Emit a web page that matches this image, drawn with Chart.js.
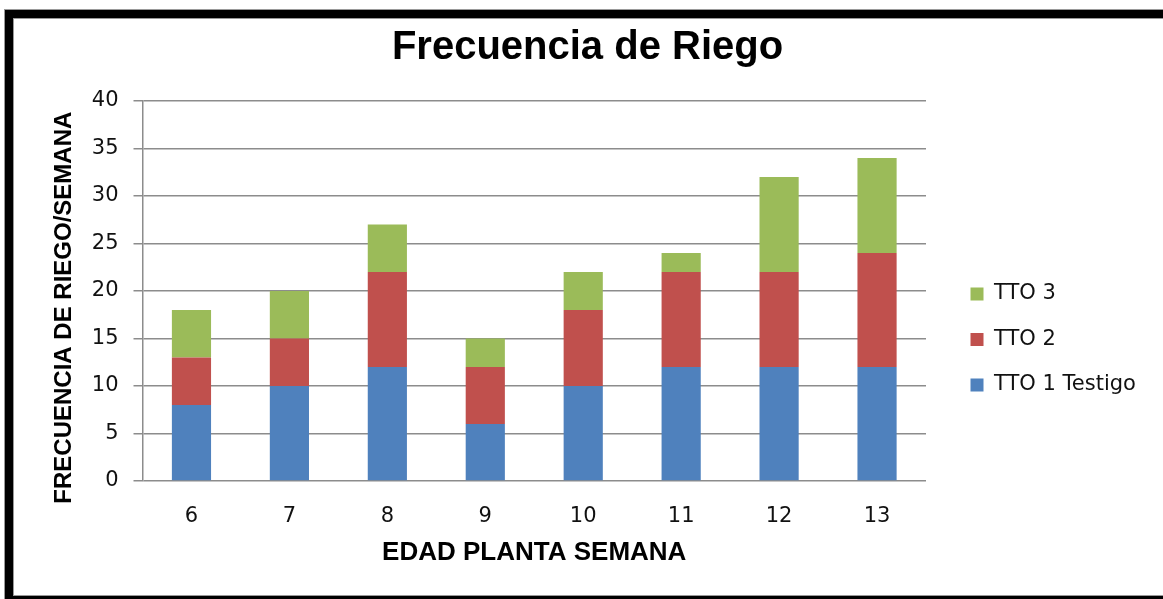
<!DOCTYPE html>
<html>
<head>
<meta charset="utf-8">
<title>Frecuencia de Riego</title>
<script src="https://cdn.jsdelivr.net/npm/chart.js@4.4.0/dist/chart.umd.min.js"></script>
<style>
  html, body { margin: 0; padding: 0; background: #fff; overflow: hidden; }
  #wrap { position: relative; width: 1163px; height: 599px; }
  #riego { position: absolute; left: 0; top: 0; }
  /* marco negro alrededor del grafico */
  #frame {
    position: absolute; left: 5px; top: 10px;
    width: 1200px; height: 578px;
    border: 8px solid #000;
    box-shadow: 0 0 0 1px #999, inset 0 0 0 1px #999;
    pointer-events: none;
  }
</style>
</head>
<body>
<div id="wrap">
  <canvas id="riego" width="1163" height="599"></canvas>
  <div id="frame"></div>
</div>
<script>
var semanas = ['6', '7', '8', '9', '10', '11', '12', '13'];
var tto1Testigo = [8, 10, 12, 6, 10, 12, 12, 12];
var tto2 = [5, 5, 10, 6, 8, 10, 10, 12];
var tto3 = [5, 5, 5, 3, 4, 2, 10, 10];

var gridGray = '#8c8c8c';

// small layout tweak: move the legend block to where the original sits
var legendNudge = {
  id: 'legendNudge',
  afterLayout: function(chart) {
    var l = chart.legend;
    l.left += 20; l.right += 20;
    l.top += 32.5; l.bottom += 32.5;
  }
};

var ctx = document.getElementById('riego').getContext('2d');

var chart = new Chart(ctx, {
  type: 'bar',
  data: {
    labels: semanas,
    datasets: [
      { label: 'TTO 1 Testigo', data: tto1Testigo, backgroundColor: '#4F81BD', borderWidth: 0 },
      { label: 'TTO 2', data: tto2, backgroundColor: '#C0504D', borderWidth: 0 },
      { label: 'TTO 3', data: tto3, backgroundColor: '#9BBB59', borderWidth: 0 }
    ]
  },
  plugins: [legendNudge],
  options: {
    responsive: false,
    animation: false,
    datasets: { bar: { categoryPercentage: 1.0, barPercentage: 0.4 } },
    layout: { padding: { top: 18, left: 49.1, right: 37.1, bottom: 3 } },
    plugins: {
      title: {
        display: true,
        text: 'Frecuencia de Riego',
        color: '#000',
        font: { family: 'Liberation Sans', size: 40, weight: 'bold' },
        padding: { top: 6, bottom: 29 }
      },
      legend: {
        position: 'right',
        reverse: true,
        labels: {
          boxWidth: 13,
          boxHeight: 13,
          padding: 24.5,
          color: '#111',
          font: { family: 'DejaVu Sans', size: 21 }
        }
      },
      tooltip: { enabled: false }
    },
    scales: {
      x: {
        stacked: true,
        grid: { display: false, drawTicks: false },
        border: { display: false },
        ticks: {
          color: '#111',
          padding: 23,
          font: { family: 'DejaVu Sans', size: 21 }
        },
        title: {
          display: true,
          text: 'EDAD PLANTA SEMANA',
          color: '#000',
          font: { family: 'Liberation Sans', size: 26, weight: 'bold' },
          padding: { top: 0, bottom: 27.4 }
        },
        afterFit: function(axis) { axis.height = 115; }
      },
      y: {
        stacked: true,
        min: 0,
        max: 40,
        ticks: {
          stepSize: 5,
          color: '#111',
          padding: 15,
          font: { family: 'DejaVu Sans', size: 21 }
        },
        grid: { color: gridGray, lineWidth: 1.5, tickLength: 9 },
        border: { display: true, color: gridGray, width: 1.5 },
        title: {
          display: true,
          text: 'FRECUENCIA DE RIEGO/SEMANA     ',
          color: '#000',
          font: { family: 'Liberation Sans', size: 24, weight: 'bold' },
          padding: { top: 0.5, bottom: 0 }
        },
        afterFit: function(axis) { axis.width = 93.4; }
      }
    }
  }
});
</script>
</body>
</html>
